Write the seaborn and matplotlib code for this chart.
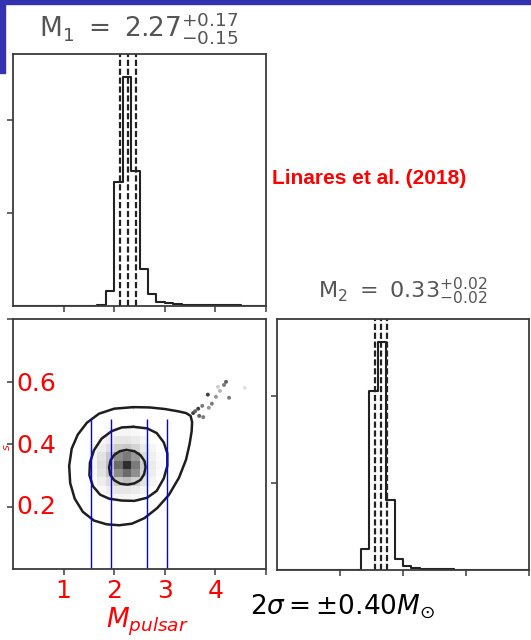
import numpy as np
import pandas as pd
import matplotlib
matplotlib.use("Agg")
import matplotlib.pyplot as plt
import seaborn as sns
from matplotlib.colors import LinearSegmentedColormap
from matplotlib.patches import Rectangle

# ---------------- data ----------------
m1_range = (0.0, 5.0)
m2_range = (0.0, 0.8)
n_bins = 30

m1_centers = [1.75, 1.917, 2.083, 2.25, 2.417, 2.583, 2.75, 2.917, 3.083,
              3.25, 3.417, 3.583, 3.75, 3.917, 4.083, 4.25, 4.417, 4.583]
m1_density = [0.01, 0.16, 1.33, 2.46, 1.45, 0.40, 0.125, 0.046, 0.027,
              0.02, 0.016, 0.015, 0.01, 0.008, 0.008, 0.006, 0.006, 0.005]
m1_quantiles = [2.12, 2.27, 2.44]

m2_centers = [0.28, 0.3067, 0.3333, 0.36, 0.3867, 0.4133, 0.44, 0.4667,
              0.4933, 0.52, 0.5467]
m2_counts = [1.23, 10.27, 13.07, 4.02, 0.61, 0.23, 0.11, 0.07, 0.06, 0.05, 0.04]
m2_quantiles = [0.31, 0.33, 0.35]

grid_x = [1.583, 1.75, 1.917, 2.083, 2.25, 2.417, 2.583, 2.75, 2.917]
grid_y = [0.44, 0.4133, 0.3867, 0.36, 0.3333, 0.3067, 0.28, 0.2533, 0.2267]
grid_shade = [
    [0.00, 0.00, 0.03, 0.04, 0.04, 0.03, 0.00, 0.00, 0.00],
    [0.00, 0.04, 0.07, 0.10, 0.10, 0.08, 0.04, 0.00, 0.00],
    [0.03, 0.07, 0.13, 0.20, 0.22, 0.17, 0.08, 0.04, 0.00],
    [0.04, 0.11, 0.22, 0.45, 0.52, 0.40, 0.14, 0.06, 0.02],
    [0.04, 0.13, 0.26, 0.58, 0.82, 0.52, 0.20, 0.08, 0.03],
    [0.03, 0.11, 0.22, 0.45, 0.58, 0.44, 0.17, 0.07, 0.02],
    [0.00, 0.07, 0.13, 0.22, 0.26, 0.19, 0.11, 0.04, 0.00],
    [0.00, 0.03, 0.07, 0.10, 0.10, 0.08, 0.04, 0.00, 0.00],
    [0.00, 0.00, 0.03, 0.04, 0.04, 0.03, 0.00, 0.00, 0.00],
]

inner_x = [2.24, 2.40, 2.52, 2.60, 2.62, 2.59, 2.52, 2.40, 2.26, 2.12, 2.00,
           1.92, 1.90, 1.93, 2.00, 2.11, 2.24]
inner_y = [0.381, 0.377, 0.364, 0.345, 0.325, 0.303, 0.285, 0.274, 0.270,
           0.273, 0.284, 0.302, 0.325, 0.348, 0.365, 0.377, 0.381]
middle_x = [2.38, 2.65, 2.84, 2.98, 3.05, 3.05, 2.98, 2.84, 2.65, 2.40, 2.15,
            1.90, 1.72, 1.58, 1.51, 1.52, 1.60, 1.75, 1.95, 2.15, 2.38]
middle_y = [0.455, 0.450, 0.435, 0.405, 0.370, 0.330, 0.290, 0.250, 0.228,
            0.218, 0.219, 0.225, 0.238, 0.265, 0.300, 0.340, 0.380, 0.417,
            0.441, 0.453, 0.455]
outer_x = [2.38, 2.70, 3.00, 3.25, 3.42, 3.51, 3.54, 3.53, 3.49, 3.42, 3.28,
           3.08, 2.85, 2.60, 2.35, 2.10, 1.85, 1.60, 1.38, 1.22, 1.13, 1.11,
           1.16, 1.28, 1.46, 1.70, 2.00, 2.38]
outer_y = [0.518, 0.517, 0.512, 0.505, 0.499, 0.490, 0.470, 0.440, 0.400,
           0.350, 0.292, 0.237, 0.195, 0.163, 0.145, 0.140, 0.143, 0.155,
           0.183, 0.225, 0.275, 0.330, 0.385, 0.430, 0.468, 0.497, 0.513,
           0.518]

pts_x = [3.56, 3.60, 3.66, 3.68, 3.74, 3.76, 3.85, 3.87, 3.93, 4.01, 4.05,
         4.09, 4.17, 4.21, 4.27, 4.58]
pts_y = [0.499, 0.505, 0.513, 0.490, 0.522, 0.486, 0.558, 0.516, 0.529,
         0.551, 0.583, 0.570, 0.589, 0.599, 0.548, 0.580]
pts_shade = [0.8, 0.7, 0.8, 0.7, 0.6, 0.6, 0.8, 0.5, 0.6, 0.5, 0.3, 0.4,
             0.6, 0.7, 0.6, 0.2]

blue_x = [1.54, 1.93, 2.64, 3.05]
blue_top = 0.48

x1_ticks = [1, 2, 3, 4, 5]
y2d_ticks = [0.2, 0.4, 0.6, 0.8]
x2_ticks = [0.2, 0.4, 0.6, 0.8]
h1_yticks = [1, 2]
h2_yticks = [5, 10]

red_x_labels = ["1", "2", "3", "4"]
red_x_pos = [1, 2, 3, 4]
red_y_labels = ["0.6", "0.4", "0.2"]
red_y_pos = [0.593, 0.395, 0.197]

title1 = r"$\mathrm{M}_1\ =\ 2.27^{+0.17}_{-0.15}$"
title2 = r"$\mathrm{M}_2\ =\ 0.33^{+0.02}_{-0.02}$"
ref_text = "Linares et al. (2018)"
sigma_text = r"$2\sigma = \pm 0.40 M_{\odot}$"
xlabel_text = r"$M_{pulsar}$"

# ---------------- style ----------------
sns.set_theme(style="white")
plt.rcParams["font.family"] = ["DejaVu Sans"]
plt.rcParams["mathtext.fontset"] = "dejavusans"
spine_c = "#3c3c3c"
line_c = "#222222"

fig = plt.figure(figsize=(5.31, 6.40), dpi=100)
fig.patch.set_facecolor("white")
W, H = 531.0, 640.0
ax1 = fig.add_axes([13 / W, 334 / H, 253 / W, 252 / H])
ax2d = fig.add_axes([13 / W, 71 / H, 253 / W, 250 / H])
ax2 = fig.add_axes([276.7 / W, 70 / H, 252.6 / W, 250.7 / H])


def style_axes(ax):
    for s in ax.spines.values():
        s.set_color(spine_c)
        s.set_linewidth(1.3)
    ax.tick_params(direction="out", length=4, width=1.1, color=spine_c,
                   labelbottom=False, labelleft=False, bottom=True, left=True)


# ---- M1 histogram ----
sns.histplot(x=m1_centers, weights=m1_density, bins=n_bins, binrange=m1_range,
             element="step", fill=False, color=line_c, linewidth=1.5, ax=ax1)
for q in m1_quantiles:
    ax1.axvline(q, color=line_c, lw=1.6, ls=(0, (2.8, 1.2)))
ax1.set_xlim(*m1_range)
ax1.set_ylim(0, 1.1 * max(m1_density))
ax1.set_xticks(x1_ticks)
ax1.set_yticks(h1_yticks)
ax1.set_xlabel("")
ax1.set_ylabel("")
style_axes(ax1)

# ---- 2D panel ----
long = pd.DataFrame([(gx, gy, grid_shade[i][j])
                     for i, gy in enumerate(grid_y)
                     for j, gx in enumerate(grid_x)],
                    columns=["x", "y", "w"])
long = long[long["w"] > 0]
cmap = LinearSegmentedColormap.from_list("wk", ["#ffffff", "#000000"])
sns.histplot(data=long, x="x", y="y", weights="w",
             bins=[n_bins, n_bins], binrange=[m1_range, m2_range],
             cmap=cmap, vmin=0, vmax=1, ax=ax2d)
for cx, cy in [(outer_x, outer_y), (middle_x, middle_y), (inner_x, inner_y)]:
    sns.lineplot(x=cx, y=cy, sort=False, estimator=None, color="#1e1e1e",
                 linewidth=1.8, ax=ax2d)
sns.scatterplot(x=pts_x, y=pts_y, hue=pts_shade, palette="Greys",
                hue_norm=(0, 1), s=8, linewidth=0, legend=False, ax=ax2d)
ax2d.vlines(blue_x, 0, blue_top, colors="#0000ff", linewidth=1.0)
ax2d.set_xlim(*m1_range)
ax2d.set_ylim(*m2_range)
ax2d.set_xticks(x1_ticks)
ax2d.set_yticks(y2d_ticks)
ax2d.set_xlabel("")
ax2d.set_ylabel("")
style_axes(ax2d)

for lab, v in zip(red_y_labels, red_y_pos):
    ax2d.text(0.46, v, lab, color="red", fontsize=18, ha="center", va="center")
for lab, v in zip(red_x_labels, red_x_pos):
    ax2d.text(v, -0.088, lab, color="red", fontsize=18, ha="center",
              va="center", transform=ax2d.get_xaxis_transform(), clip_on=False)
ax2d.text(0.53, -0.212, xlabel_text, color="red", fontsize=19, ha="center",
          va="center", transform=ax2d.transAxes)
# small fragment of the slide's red y label at the very left edge
fig.text(1.5 / W, 1 - 447 / H, "s", color="red", fontsize=8, style="italic",
         rotation=90, ha="left", va="center")

# ---- M2 histogram ----
sns.histplot(x=m2_centers, weights=m2_counts, bins=n_bins, binrange=m2_range,
             element="step", fill=False, color=line_c, linewidth=1.5, ax=ax2)
for q in m2_quantiles:
    ax2.axvline(q, color=line_c, lw=1.6, ls=(0, (2.8, 1.2)))
ax2.set_xlim(*m2_range)
ax2.set_ylim(0, 1.1 * max(m2_counts))
ax2.set_xticks(x2_ticks)
ax2.set_yticks(h2_yticks)
ax2.set_xlabel("")
ax2.set_ylabel("")
style_axes(ax2)

# ---- texts ----
fig.text(139 / W, 1 - 28 / H, title1, color="#555555", fontsize=19,
         ha="center", va="center")
fig.text(403 / W, 1 - 291 / H, title2, color="#555555", fontsize=16,
         ha="center", va="center")
fig.text(271.7 / W, 1 - 178.3 / H, ref_text, color="red", fontsize=15,
         fontweight="bold", family=["Liberation Sans", "DejaVu Sans"],
         ha="left", va="center")
fig.text(342.5 / W, 1 - 607 / H, sigma_text, color="black", fontsize=19,
         ha="center", va="center")

# ---- slide frame (blue) ----
bc = "#3333b2"
fig.add_artist(Rectangle((0, 1 - 4 / H), 1, 4 / H, transform=fig.transFigure,
                         color=bc, zorder=10))
fig.add_artist(Rectangle((0, 1 - 73 / H), 5 / W, 73 / H,
                         transform=fig.transFigure, color=bc, zorder=10))

fig.savefig("out.png", dpi=100, facecolor="white")
